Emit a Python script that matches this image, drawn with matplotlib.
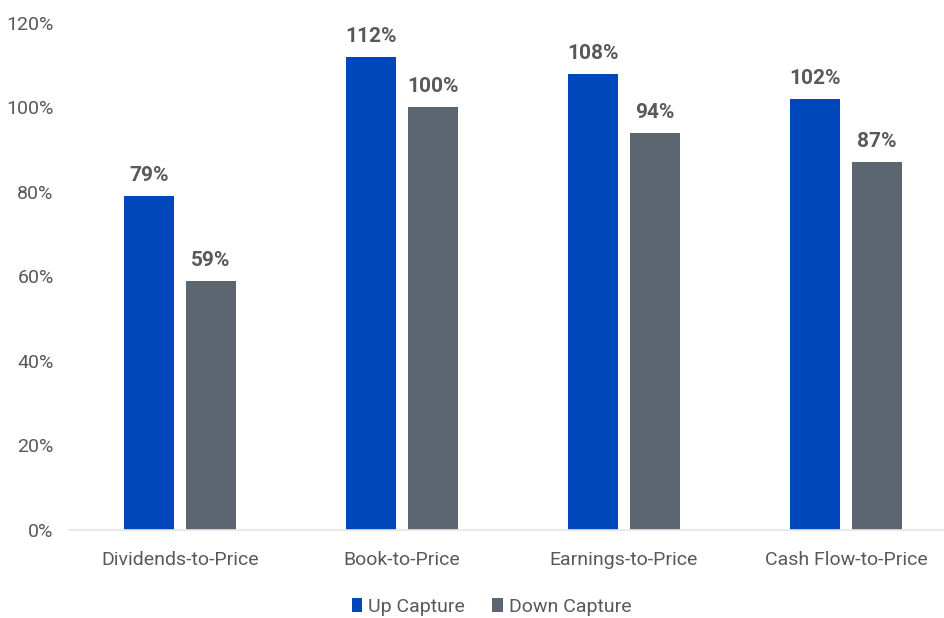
import matplotlib
matplotlib.use("Agg")
import matplotlib.pyplot as plt
import numpy as np

categories = ["Dividends-to-Price", "Book-to-Price", "Earnings-to-Price", "Cash Flow-to-Price"]
up_capture = [79, 112, 108, 102]
down_capture = [59, 100, 94, 87]
y_ticks = [0, 20, 40, 60, 80, 100, 120]

BLUE = "#0047BB"
GREY = "#5B6670"
TEXT = "#595959"

plt.rcParams["font.family"] = ["Liberation Sans Narrow", "Roboto", "DejaVu Sans"]

fig = plt.figure(figsize=(9.45, 6.18), dpi=100)
ax = fig.add_axes([0.073, 0.1424, 0.927, 0.8205])

x = np.arange(len(categories))
w = 0.225
off = 0.14
bars_up = ax.bar(x - off, up_capture, w, color=BLUE, label="Up Capture")
bars_down = ax.bar(x + off, down_capture, w, color=GREY, label="Down Capture")

for bars, vals in ((bars_up, up_capture), (bars_down, down_capture)):
    for b, v in zip(bars, vals):
        ax.annotate(f"{v}%", (b.get_x() + b.get_width() / 2, v),
                    xytext=(0, 8), textcoords="offset points",
                    ha="center", va="bottom", fontsize=15, fontweight="bold", color=TEXT)

ax.set_ylim(0, 120)
ax.set_xlim(-0.5, 3.446)
ax.set_yticks(y_ticks)
ax.set_yticklabels([f"{t}%" for t in y_ticks])
ax.set_xticks(x)
ax.set_xticklabels(categories)
ax.tick_params(axis="y", length=0, pad=11, labelsize=14, labelcolor=TEXT)
ax.tick_params(axis="x", length=0, pad=15, labelsize=14, labelcolor=TEXT)

for s in ("top", "right", "left"):
    ax.spines[s].set_visible(False)
ax.spines["bottom"].set_color("#E6E6E6")
ax.spines["bottom"].set_linewidth(1.2)

fig.legend(loc="center", bbox_to_anchor=(0.52, 0.018), ncol=2, frameon=False,
           fontsize=14, labelcolor=TEXT, handlelength=0.55, handleheight=0.7,
           handletextpad=0.3, columnspacing=1.4)

fig.savefig("out.png", dpi=100)
